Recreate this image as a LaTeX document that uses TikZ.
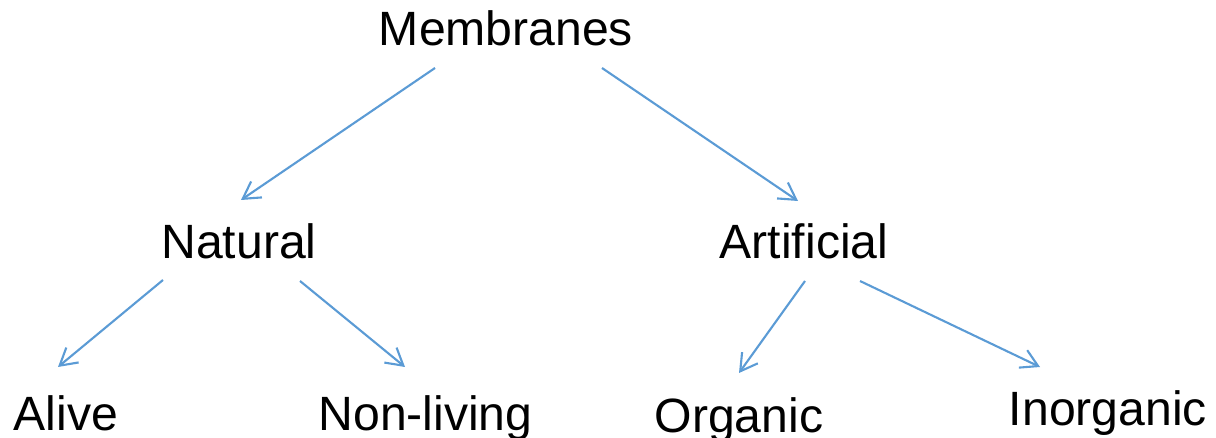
\documentclass[tikz,border=0pt]{standalone}
\usepackage{fontspec}
\setmainfont{Liberation Sans}
\usetikzlibrary{calc,arrows.meta}
\definecolor{lineblue}{HTML}{5B9BD5}

\begin{document}
\begin{tikzpicture}[x=0.02cm,y=-0.02cm]
\tikzstyle{lbl} = [anchor=base,inner sep=0pt,font=\fontsize{27.4}{32}\selectfont]
\tikzstyle{arr} = [lineblue,line width=1.2pt,-{Straight Barb[length=9.5pt,width=11pt,line width=1.2pt]}]
\useasboundingbox (0,0) rectangle (1216,438);

%%%%%% Labels
\node[lbl] (mem) at (506,46) {Membranes};
\node[lbl] (nat) at (239,259) {Natural};
\node[lbl] (art) at (804,259) {Artificial};
\node[lbl] (alive) at (66,430) {Alive};
\node[lbl] (nonliv) at (425.5,430) {Non-living};
\node[lbl] (org) at (739,433) {Organic};
\node[lbl] (inorg) at (1108,425) {Inorganic};

%%%%%% Arrows
\draw[arr] ($(mem.base)+(-71,22)$) -- ($(nat.base)+(2,-59)$);
\draw[arr] ($(mem.base)+(96,22)$) -- ($(art.base)+(-6,-58)$);
%
\draw[arr] ($(nat.base)+(-76,21)$) -- ($(alive.base)+(-8,-63)$);
\draw[arr] ($(nat.base)+(61,22)$) -- ($(nonliv.base)+(-20.5,-63)$);
%
\draw[arr] ($(art.base)+(1,22)$) -- ($(org.base)+(0,-60)$);
\draw[arr] ($(art.base)+(56,22)$) -- ($(inorg.base)+(-68,-58)$);
\end{tikzpicture}
\end{document}
